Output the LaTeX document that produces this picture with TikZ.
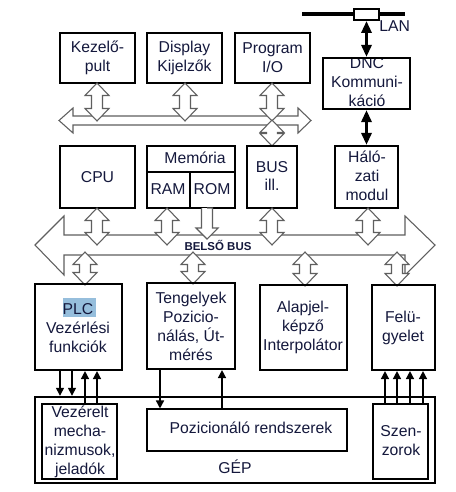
\documentclass[tikz,border=0pt]{standalone}
\usepackage{fontspec}
\setmainfont{Liberation Sans}
\usetikzlibrary{fit,arrows.meta}
\definecolor{navy}{RGB}{20,24,60}
\definecolor{hl}{RGB}{150,190,220}
\definecolor{busgray}{RGB}{95,95,95}
\newcommand\dblarr[3]{%
  \pgfmathsetmacro\dblYa{#2+12.5}\pgfmathsetmacro\dblYb{#3-12.5}%
  \draw[barrow] (#1,#2) -- (#1+12,\dblYa) -- (#1+5.5,\dblYa) -- (#1+5.5,\dblYb) -- (#1+12,\dblYb) -- (#1,#3) -- (#1-12,\dblYb) -- (#1-5.5,\dblYb) -- (#1-5.5,\dblYa) -- (#1-12,\dblYa) -- cycle;}
\begin{document}
\begin{tikzpicture}[x=0.75pt,y=-0.75pt,
  box/.style={draw=black,line width=1.6pt,rectangle,inner sep=0pt},
  thinbox/.style={draw=black,line width=0.8pt,rectangle,inner sep=0pt},
  txt/.style={font=\fontsize{11.8}{14.2}\selectfont,align=center,text=navy,inner sep=0pt},
  barrow/.style={draw=busgray,line width=0.8pt,fill=white,line join=miter},
  bus/.style={draw=busgray,line width=0.8pt,fill=white,line join=miter},
  thickarr/.style={line width=2.4pt,{Triangle[width=7.5pt,length=9pt]}-{Triangle[width=7.5pt,length=9pt]}},
  tarr/.style={line width=1.1pt,-{Triangle[width=6pt,length=6pt]}}]
\fill[white] (0,0) rectangle (456,492);
\useasboundingbox (0,0) rectangle (456,492);

% LAN
\coordinate (lanL) at (302,14);
\coordinate (lanR) at (405,14);
\draw[line width=3pt] (lanL) -- (lanR);
\node[draw=black,line width=1.4pt,fill=white,inner sep=0pt,fit={(354,9)(379,20)}] (lanbox) {};
\node[txt,anchor=west] (lantxt) at (379,26) {LAN};

% top boxes
\node[box,fit={(60,33)(135,83)}] (kez) {};
\node[txt] at (kez.center) {Kezelő-\\pult};
\node[box,fit={(147,33)(222,83)}] (disp) {};
\node[txt] at (disp.center) {Display\\Kijelzők};
\node[box,fit={(235,33)(310,83)}] (prog) {};
\node[txt] at (prog.center) {Program\\I/O};
\node[txt] (dnctxt) at (367,82) {DNC\\Kommuni-\\káció};
\node[box,fit={(323,58)(410,109)}] (dnc) {};

% upper bus
\draw[bus] (59,120.5) -- (73,108) -- (73,116) -- (298,116) -- (298,108) -- (311,120.5) -- (298,133) -- (298,125) -- (73,125) -- (73,133) -- cycle;
\dblarr{97}{83}{121}
\dblarr{185}{83}{121}
\dblarr{272}{83}{121}
\dblarr{272}{120}{146}

% middle boxes
\node[box,fit={(60,146)(135,208)}] (cpu) {};
\node[txt] at (cpu.center) {CPU};
\node[box,fit={(147,146)(235,208)}] (mem) {};
\draw[line width=1.6pt] (mem.west |- 0,172) coordinate (memL) -- (mem.east |- 0,172) coordinate (memR);
\coordinate (memdiv) at (190,172);
\draw[line width=1.6pt] (memdiv) -- (memdiv |- mem.south);
\node[txt] at (195,158) {Memória};
\node[txt] at (168,189) {RAM};
\node[txt] at (212,189) {ROM};
\node[box,fit={(247,146)(297,208)}] (busill) {};
\node[txt] at (272,176) {BUS\\ill.};
\node[box,fit={(335,146)(398,208)}] (halo) {};
\node[txt] at (367,176) {Háló-\\zati\\modul};

% thick arrows
\draw[thickarr] (lanbox.south -| dnc.north) -- (dnc.north);
\draw[thickarr] (dnc.south) -- (dnc.south |- halo.north);

% internal bus
\draw[bus] (35,245) -- (64,216) -- (64,235) -- (405,235) -- (405,216) -- (435,245) -- (405,275) -- (405,255) -- (64,255) -- (64,275) -- cycle;
\node[font=\fontsize{8.6}{10}\selectfont\bfseries,text=navy,inner sep=0pt] (belso) at (218,245) {BELSŐ BUS};
\dblarr{97}{208}{245}
\dblarr{167}{208}{245}
\dblarr{272}{208}{245}
\dblarr{368}{208}{245}
\draw[barrow] (207,208) -- (212.5,208) -- (212.5,228) -- (218,228) -- (207,239) -- (196,228) -- (201.5,228) -- (201.5,208);
\dblarr{85}{252}{285}
\dblarr{193}{252}{284}
\dblarr{305}{252}{286}
\dblarr{397}{252}{286}

% lower boxes
\node[box,fit={(35,284)(122,370)}] (plc) {};
\fill[hl] (63,298) rectangle (96,317);
\node[txt] at (78,328) {PLC\\Vezérlési\\funkciók};
\node[box,fit={(147,283)(235,369)}] (teng) {};
\node[txt] at (191,326) {Tengelyek\\Pozicio-\\nálás, Út-\\mérés};
\node[box,fit={(260,285)(347,370)}] (alap) {};
\node[txt] at (303,327) {Alapjel-\\képző\\Interpolátor};
\node[box,fit={(372,285)(435,370)}] (felu) {};
\node[txt] at (403,328) {Felü-\\gyelet};

% machine
\node[box,line width=1.8pt,fit={(35,397)(435,483)}] (gep) {};
\node[txt] at (235,467) {GÉP};
\node[thinbox,fit={(42,404)(117,479)}] (vez) {};
\node[txt] at (80,442) {Vezérelt\\mecha-\\nizmusok,\\jeladók};
\node[thinbox,fit={(147,409)(347,451)}] (pozi) {};
\node[txt] at (251,428) {Pozicionáló rendszerek};
\node[thinbox,fit={(373,404)(428,479)}] (szen) {};
\node[txt] at (401,441) {Szen-\\zorok};

% thin arrows
\foreach \xx in {60,72} {\coordinate (c) at (\xx,0); \draw[tarr] (plc.south -| c) -- (gep.north -| c);}
\foreach \xx in {85,97} {\coordinate (c) at (\xx,0); \draw[tarr] (vez.north -| c) -- (plc.south -| c);}
\coordinate (t1) at (160,0);
\draw[tarr] (teng.south -| t1) -- (pozi.north -| t1);
\coordinate (t2) at (222,0);
\draw[tarr] (pozi.north -| t2) -- (teng.south -| t2);
\foreach \xx in {385,397,410,423} {\coordinate (c) at (\xx,0); \draw[tarr] (szen.north -| c) -- (felu.south -| c);}
\end{tikzpicture}
\end{document}
